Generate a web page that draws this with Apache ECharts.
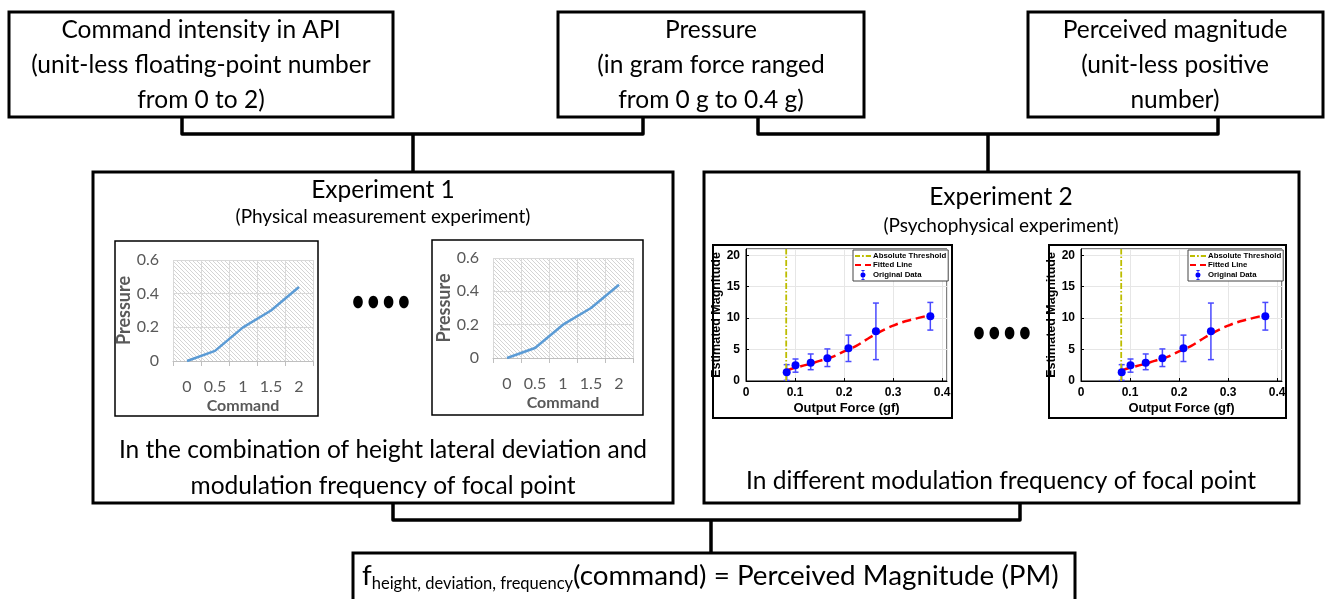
<!DOCTYPE html>
<html>
<head>
<meta charset="utf-8">
<script src="https://cdn.jsdelivr.net/npm/echarts@6/dist/echarts.min.js"></script>
<style>
  html, body { margin: 0; padding: 0; background: #fff; }
  #main { width: 1330px; height: 599px; }
</style>
</head>
<body>
<div id="main"></div>
<script>
// data
const commandCats = ['0', '0.5', '1', '1.5', '2'];
const pressureVals = [0, 0.06, 0.2, 0.3, 0.44];

const forceX = [0.083, 0.101, 0.132, 0.166, 0.209, 0.265, 0.376];
const magMean = [1.4, 2.5, 2.9, 3.6, 5.2, 7.9, 10.3];
const magLow = [0.1, 1.4, 1.8, 2.3, 3.1, 3.4, 8.1];
const magHigh = [2.6, 3.5, 4.3, 5.1, 7.3, 12.4, 12.5];

const fitX = [0.083, 0.1, 0.125, 0.15, 0.175, 0.2, 0.225, 0.25, 0.275, 0.3, 0.325, 0.35, 0.376];
const fitY = [1.7, 2.1, 2.6, 3.2, 3.8, 4.7, 5.6, 6.8, 7.9, 8.8, 9.5, 10.0, 10.5];

const thresholdX = 0.082;

const TXT = 'Lato, "Open Sans", sans-serif';
const MAT = '"Liberation Sans", Arial, sans-serif';
const BIG = 24.5;
const SMALL = 19;

// hatch fill for the excel-like plot area
const hatch = document.createElement('canvas');
hatch.width = 4; hatch.height = 4;
const hc = hatch.getContext('2d');
hc.fillStyle = '#ffffff'; hc.fillRect(0, 0, 4, 4);
hc.strokeStyle = '#d4d4d4'; hc.lineWidth = 1;
hc.beginPath(); hc.moveTo(-1, -1); hc.lineTo(5, 5); hc.moveTo(3, -1); hc.lineTo(5, 1); hc.moveTo(-1, 3); hc.lineTo(1, 5); hc.stroke();

const chart = echarts.init(document.getElementById('main'));

function box(x, y, w, h, lw) {
  return { type: 'rect', shape: { x: x, y: y, width: w, height: h },
    style: { fill: 'none', stroke: '#000', lineWidth: lw } };
}
function txt(x, y, s, size) {
  return { type: 'text', x: x, y: y,
    style: { text: s, fill: '#000', font: size + 'px ' + TXT, align: 'center', verticalAlign: 'middle' } };
}
function poly(pts, lw) {
  return { type: 'polyline', shape: { points: pts },
    style: { fill: 'none', stroke: '#000', lineWidth: lw, lineJoin: 'round' } };
}
function dots(x0, y) {
  const out = [];
  for (let i = 0; i < 4; i++) {
    out.push({ type: 'ellipse', shape: { cx: x0 + i * 15.3, cy: y, rx: 4.8, ry: 6.3 }, style: { fill: '#000' } });
  }
  return out;
}

const graphics = [
  // top boxes
  box(9, 12, 384, 105, 3),
  txt(201, 30, 'Command intensity in API', BIG),
  txt(201, 65, '(unit-less floating-point number', BIG),
  txt(201, 100, 'from 0 to 2)', BIG),
  box(558, 12, 306, 105, 3),
  txt(711, 30, 'Pressure', BIG),
  txt(711, 65, '(in gram force ranged', BIG),
  txt(711, 100, 'from 0 g to 0.4 g)', BIG),
  box(1028, 12, 295, 105, 3),
  txt(1175, 30, 'Perceived magnitude', BIG),
  txt(1175, 65, '(unit-less positive', BIG),
  txt(1175, 100, 'number)', BIG),
  // brackets
  poly([[182, 117], [182, 134], [643, 134], [643, 117]], 3.5),
  poly([[413, 134], [413, 172]], 3.5),
  poly([[758, 117], [758, 134], [1218, 134], [1218, 117]], 3.5),
  poly([[988, 134], [988, 172]], 3.5),
  // experiment boxes
  box(93, 172, 580, 331, 3),
  txt(383, 190, 'Experiment 1', BIG),
  txt(383, 217, '(Physical measurement experiment)', SMALL),
  txt(383, 450, 'In the combination of height lateral deviation and', BIG),
  txt(383, 486, 'modulation frequency of focal point', BIG),
  box(704, 172, 595, 331, 3),
  txt(1001, 197, 'Experiment 2', BIG),
  txt(1001, 226, '(Psychophysical experiment)', SMALL),
  txt(1001, 481, 'In different modulation frequency of focal point', BIG),
  // small chart frames
  box(115, 241, 203, 175, 1.5),
  box(432, 240, 211, 175, 1.5),
  box(713, 245, 239, 173, 2),
  box(1049, 245, 237, 173, 2),
  // bottom bracket + box
  poly([[393, 503], [393, 520], [1020, 520], [1020, 503]], 3.5),
  poly([[711, 520], [711, 553]], 3.5),
  box(353, 553, 722, 60, 3),
  { type: 'text', x: 362, y: 576,
    style: {
      text: '{m|f}{s|height, deviation, frequency}{m|(command) = Perceived Magnitude (PM)}',
      verticalAlign: 'middle', align: 'left',
      rich: {
        m: { fontFamily: TXT, fontSize: 27.8, lineHeight: 32, fill: '#000' },
        s: { fontFamily: TXT, fontSize: 16.5, lineHeight: 14, verticalAlign: 'bottom', fill: '#000' }
      }
    } }
].concat(dots(358, 302), dots(979, 333));

function excelX(i) {
  return {
    type: 'category', gridIndex: i, data: commandCats, boundaryGap: true,
    axisLine: { lineStyle: { color: '#bfbfbf', width: 1 } },
    axisTick: { show: true, length: 5, lineStyle: { color: '#bfbfbf' } },
    splitLine: { show: true, lineStyle: { color: '#d9d9d9' } },
    axisLabel: { color: '#595959', fontSize: 16, fontFamily: TXT, margin: 18, interval: 0 },
    name: 'Command', nameLocation: 'middle', nameGap: 37,
    nameTextStyle: { color: '#595959', fontSize: 16, fontWeight: 'bold', fontFamily: TXT }
  };
}
function excelY(i) {
  return {
    type: 'value', gridIndex: i, min: 0, max: 0.6, interval: 0.2,
    axisLine: { show: false }, axisTick: { show: false },
    splitLine: { lineStyle: { color: '#d9d9d9' } },
    axisLabel: { color: '#595959', fontSize: 16, fontFamily: TXT, margin: 14 },
    name: 'Pressure', nameLocation: 'middle', nameGap: 26,
    nameTextStyle: { color: '#595959', fontSize: 18, fontWeight: 'bold', fontFamily: TXT }
  };
}
function matX(i) {
  return {
    type: 'value', gridIndex: i, min: 0, max: 0.41, interval: 0.1,
    axisLine: { lineStyle: { color: '#000', width: 1 } },
    axisTick: { inside: true, length: 3, lineStyle: { color: '#000' } },
    splitLine: { show: true, lineStyle: { color: '#e6e6e6' } },
    axisLabel: { color: '#000', fontSize: 12, fontWeight: 'bold', fontFamily: MAT, margin: 6 },
    name: 'Output Force (gf)', nameLocation: 'middle', nameGap: 21,
    nameTextStyle: { color: '#000', fontSize: 13, fontWeight: 'bold', fontFamily: MAT }
  };
}
function matY(i) {
  return {
    type: 'value', gridIndex: i, min: 0, max: 21, interval: 5,
    axisLine: { lineStyle: { color: '#000', width: 1 } },
    axisTick: { inside: true, length: 3, lineStyle: { color: '#000' } },
    splitLine: { lineStyle: { color: '#e6e6e6' } },
    axisLabel: { color: '#000', fontSize: 12, fontWeight: 'bold', fontFamily: MAT, margin: 6 },
    name: 'Estimated Magnitude', nameLocation: 'middle', nameGap: 21,
    nameTextStyle: { color: '#000', fontSize: 12.5, fontWeight: 'bold', fontFamily: MAT }
  };
}

const errData = forceX.map((x, i) => [x, magLow[i], magHigh[i]]);
const meanData = forceX.map((x, i) => [x, magMean[i]]);
const fitData = fitX.map((x, i) => [x, fitY[i]]);

function errRender(params, api) {
  const x = api.value(0);
  const top = api.coord([x, api.value(2)]);
  const bot = api.coord([x, api.value(1)]);
  const c = 3;
  const st = { stroke: '#4a4aff', lineWidth: 1.5 };
  return { type: 'group', children: [
    { type: 'line', shape: { x1: top[0], y1: top[1], x2: bot[0], y2: bot[1] }, style: st },
    { type: 'line', shape: { x1: top[0] - c, y1: top[1], x2: top[0] + c, y2: top[1] }, style: st },
    { type: 'line', shape: { x1: bot[0] - c, y1: bot[1], x2: bot[0] + c, y2: bot[1] }, style: st }
  ] };
}

function matSeries(i) {
  return [
    { name: 'Absolute Threshold', type: 'line', xAxisIndex: i, yAxisIndex: i,
      data: [[thresholdX, 0], [thresholdX, 21]], symbol: 'none', silent: true,
      itemStyle: { color: '#bdbd00' },
      lineStyle: { color: '#bdbd00', width: 1.8, type: [6, 2, 1.5, 2] } },
    { name: 'Fitted Line', type: 'line', xAxisIndex: i, yAxisIndex: i,
      data: fitData, smooth: true, symbol: 'none',
      itemStyle: { color: '#ff0000' },
      lineStyle: { color: '#ff0000', width: 2.5, type: [9, 5] } },
    { name: 'err', type: 'custom', xAxisIndex: i, yAxisIndex: i,
      data: errData, renderItem: errRender, encode: { x: 0, y: [1, 2] }, z: 3 },
    { name: 'Original Data', type: 'scatter', xAxisIndex: i, yAxisIndex: i,
      data: meanData, symbolSize: 8, itemStyle: { color: '#0000ff', opacity: 1 }, z: 4 }
  ];
}

function matLegend(left) {
  return {
    left: left, top: 250, orient: 'vertical', itemGap: 1,
    padding: [2, 2, 1, 2], backgroundColor: '#fff', borderColor: '#444', borderWidth: 1,
    itemWidth: 16, itemHeight: 10, symbolKeepAspect: true,
    textStyle: { fontSize: 7.8, fontWeight: 'bold', fontFamily: MAT, color: '#000', padding: [0, 0, 0, -3] },
    data: [
      { name: 'Absolute Threshold', icon: 'path://M0,0h5v1.8h-5zM7,0h1.8v1.8h-1.8zM10.8,0h5.2v1.8h-5.2z' },
      { name: 'Fitted Line', icon: 'path://M0,0h6v2.2h-6zM10,0h6v2.2h-6z' },
      { name: 'Original Data',
        icon: 'path://M7.5,0h1v12h-1zM6,0h4v1h-4zM6,11h4v1h-4zM8,3a3,3 0 1,1 -0.001,0z' }
    ]
  };
}

const option = {
  animation: false,
  backgroundColor: '#fff',
  graphic: graphics,
  legend: [matLegend(853), matLegend(1188)],
  grid: [
    { left: 173, top: 260, width: 140, height: 101, show: true, borderWidth: 0,
      backgroundColor: { image: hatch, repeat: 'repeat' } },
    { left: 493, top: 258, width: 140, height: 100, show: true, borderWidth: 0,
      backgroundColor: { image: hatch, repeat: 'repeat' } },
    { left: 746, top: 249, width: 201, height: 132, show: true, borderColor: '#000', borderWidth: 1 },
    { left: 1081, top: 249, width: 201, height: 132, show: true, borderColor: '#000', borderWidth: 1 }
  ],
  xAxis: [excelX(0), excelX(1), matX(2), matX(3)],
  yAxis: [excelY(0), excelY(1), matY(2), matY(3)],
  series: [
    { type: 'line', xAxisIndex: 0, yAxisIndex: 0, data: pressureVals, symbol: 'none',
      lineStyle: { color: '#5b9bd5', width: 2.5 } },
    { type: 'line', xAxisIndex: 1, yAxisIndex: 1, data: pressureVals, symbol: 'none',
      lineStyle: { color: '#5b9bd5', width: 2.5 } }
  ].concat(matSeries(2), matSeries(3))
};

chart.setOption(option);
</script>
</body>
</html>
